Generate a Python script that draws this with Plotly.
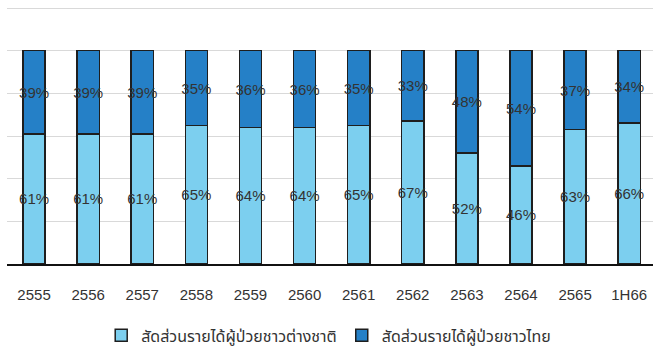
import plotly.graph_objects as go

categories = ["2555", "2556", "2557", "2558", "2559", "2560", "2561", "2562", "2563", "2564", "2565", "1H66"]
foreign = [61, 61, 61, 65, 64, 64, 65, 67, 52, 46, 63, 66]
thai = [39, 39, 39, 35, 36, 36, 35, 33, 48, 54, 37, 34]
name_foreign = "สัดส่วนรายได้ผู้ป่วยชาวต่างชาติ"
name_thai = "สัดส่วนรายได้ผู้ป่วยชาวไทย"

font_main = "Liberation Sans, Arial, sans-serif"
line = dict(color="#1e1e1e", width=1.5)

fig = go.Figure()
fig.add_trace(go.Bar(
    x=categories, y=foreign, name=name_foreign,
    marker=dict(color="#7ccfef", line=line),
    text=[f"{v}%" for v in foreign], textposition="inside",
    insidetextanchor="middle", textangle=0, constraintext="none",
    textfont=dict(family=font_main, size=15, color="#333333"),
    width=0.41, cliponaxis=False,
))
fig.add_trace(go.Bar(
    x=categories, y=thai, name=name_thai,
    marker=dict(color="#2580c7", line=line),
    text=[f"{v}%" for v in thai], textposition="inside",
    insidetextanchor="middle", textangle=0, constraintext="none",
    textfont=dict(family=font_main, size=15, color="#333333"),
    width=0.41, cliponaxis=False,
))

fig.update_layout(
    barmode="stack",
    width=653, height=349,
    margin=dict(l=7, r=0, t=7, b=85, autoexpand=False),
    paper_bgcolor="white", plot_bgcolor="white",
    uniformtext=dict(mode=False),
    showlegend=True,
    legend=dict(
        orientation="h", x=0.498, xanchor="center", y=-0.278, yanchor="middle",
        font=dict(family="Noto Sans Thai, Noto Sans, sans-serif", size=16, color="#333333"),
        itemwidth=30, traceorder="normal",
    ),
    xaxis=dict(
        range=[-0.5, 11.44], showgrid=False,
        showline=True, linecolor="#111111", linewidth=1.5,
        ticks="outside", ticklen=16, tickcolor="rgba(0,0,0,0)",
        tickfont=dict(family=font_main, size=15, color="#333333"),
    ),
    yaxis=dict(
        range=[0, 120.5], dtick=20, showticklabels=False,
        showgrid=True, gridcolor="#d9d9d9", gridwidth=1,
        zeroline=False, showline=False,
    ),
)

fig.write_html("out.html")
